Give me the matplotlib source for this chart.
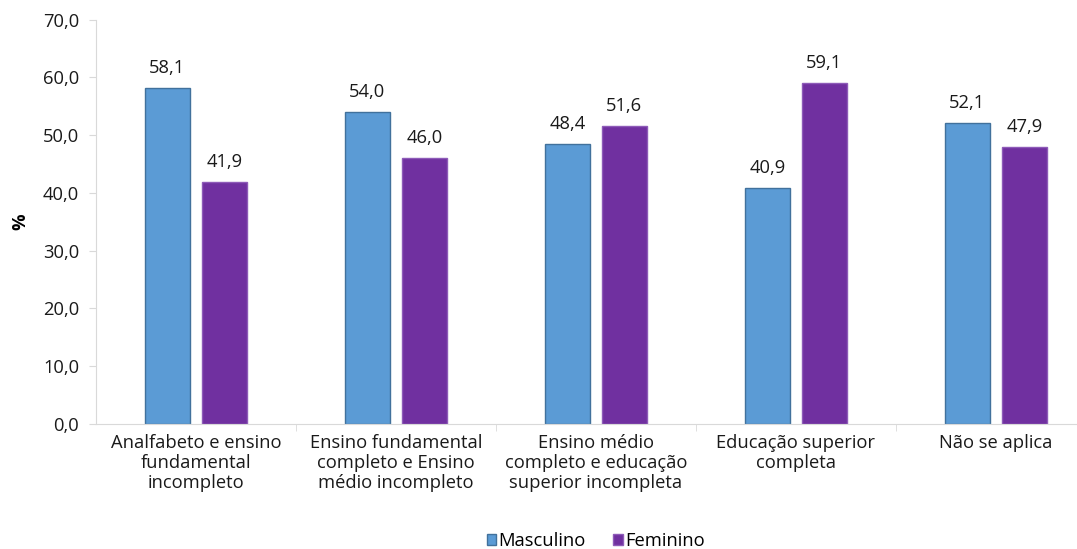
import numpy as np
import matplotlib.pyplot as plt
from matplotlib.ticker import FixedLocator, FuncFormatter

plt.rcParams['font.family'] = ['Open Sans', 'DejaVu Sans']

# Dados
categorias = ["Analfabeto e ensino\nfundamental\nincompleto",
              "Ensino fundamental\ncompleto e Ensino\nmédio incompleto",
              "Ensino médio\ncompleto e educação\nsuperior incompleta",
              "Educação superior\ncompleta",
              "Não se aplica"]
masculino = [58.1, 54.0, 48.4, 40.9, 52.1]
feminino = [41.9, 46.0, 51.6, 59.1, 47.9]

fs = 13.2
fig = plt.figure(figsize=(10.77, 5.49), dpi=100)
ax = fig.add_axes([0.089, 0.228, 0.9285, 0.736])

x = np.arange(len(categorias))
w = 0.225
gap = 0.06
b1 = ax.bar(x - (w + gap) / 2, masculino, w, color="#5B9BD5", edgecolor="#41719C",
            linewidth=1, label="Masculino")
b2 = ax.bar(x + (w + gap) / 2, feminino, w, color="#7030A0", edgecolor="#8E5BB8",
            linewidth=1, label="Feminino")

fmt = lambda v: ("%.1f" % v).replace(".", ",")
for bars, vals in [(b1, masculino), (b2, feminino)]:
    for r, v in zip(bars, vals):
        ax.annotate(fmt(v), (r.get_x() + r.get_width() / 2, v), xytext=(0, 8),
                    textcoords="offset points", ha="center", va="bottom",
                    fontsize=fs, color="#1a1a1a")

ax.set_xlim(-0.5, len(categorias) - 0.5)
ax.set_ylim(0, 70)
ax.set_yticks(np.arange(0, 71, 10))
ax.yaxis.set_major_formatter(FuncFormatter(lambda v, p: fmt(v)))
ax.set_xticks(x)
ax.set_xticklabels(categorias, fontsize=fs, color="#1a1a1a", linespacing=1.15)
ax.tick_params(axis="x", length=0, pad=7)
ax.xaxis.set_minor_locator(FixedLocator(np.arange(0.5, len(categorias) - 0.5, 1)))
ax.tick_params(axis="x", which="minor", length=5, color="#D9D9D9")
ax.tick_params(axis="y", labelsize=fs, labelcolor="#1a1a1a", length=5, pad=7,
               color="#D9D9D9")
ax.set_ylabel("%", fontsize=fs, fontweight="bold", labelpad=10)

for s in ["top", "right"]:
    ax.spines[s].set_visible(False)
for s in ["left", "bottom"]:
    ax.spines[s].set_color("#D9D9D9")

ax.legend(loc="center", bbox_to_anchor=(0.5, -0.29), ncol=2, frameon=False,
          fontsize=fs, handlelength=0.5, handleheight=0.5, handletextpad=0.15,
          columnspacing=1.5)

fig.savefig("out.png", dpi=100)
